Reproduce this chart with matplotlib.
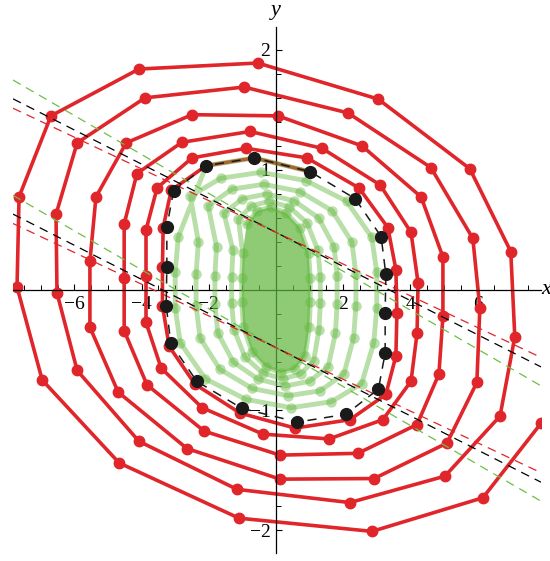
import numpy as np
import matplotlib.pyplot as plt
from matplotlib.ticker import FixedLocator, MultipleLocator

plt.rcParams['font.family'] = ['Liberation Serif', 'DejaVu Serif']

# red orbit, spiralling in from outside
red_x = [8.6, 7.89, 6.16, 2.86, -1.10, -4.67, -6.96, -7.71, -7.65, -6.70, -4.08, -0.54, 3.04, 5.77,
         6.99, 7.11, 6.67, 5.03, 2.20, -1.16, -4.08, -5.92, -6.52, -6.55, -5.92, -3.90, -0.95, 2.14,
         4.61, 5.86, 6.07, 5.98, 5.09, 2.92, 0.12, -2.65, -4.70, -5.54, -5.54, -5.36, -4.46, -2.50,
         0.06, 2.56, 4.32, 4.97, 4.97, 4.85, 4.20, 2.44, 0.12, -2.14, -3.84, -4.52, -4.52, -4.52,
         -4.14, -2.80, -0.77, 1.37, 3.10, 4.02, 4.23, 4.20, 4.02, 3.18, 1.58, -0.39, -2.20, -3.42,
         -3.87, -3.87, -3.87, -3.54, -2.50, -0.89, 0.92, 2.47, 3.33, 3.57, 3.60, 3.57, 3.27, 2.20,
         0.57, -1.07, -2.41, -3.18, -3.38, -3.38, -3.36, -3.12, -2.08, -0.64, 1.02]
red_y = [-0.55, -1.11, -1.73, -2.01, -1.90, -1.44, -0.75, 0.025, 0.775, 1.45, 1.84, 1.89, 1.59, 1.01,
         0.32, -0.39, -1.05, -1.55, -1.77, -1.66, -1.26, -0.67, -0.025, 0.63, 1.225, 1.60, 1.69, 1.475,
         1.02, 0.43, -0.15, -0.77, -1.275, -1.57, -1.575, -1.32, -0.85, -0.31, 0.24, 0.775, 1.225, 1.46,
         1.45, 1.20, 0.775, 0.275, -0.22, -0.70, -1.12, -1.36, -1.375, -1.175, -0.79, -0.34, 0.10, 0.55,
         0.97, 1.23, 1.32, 1.18, 0.875, 0.48, 0.06, -0.36, -0.76, -1.08, -1.24, -1.20, -0.98, -0.65,
         -0.27, 0.12, 0.50, 0.85, 1.10, 1.18, 1.10, 0.85, 0.52, 0.17, -0.19, -0.55, -0.87, -1.08,
         -1.15, -1.025, -0.785, -0.47, -0.13, 0.19, 0.52, 0.83, 1.035, 1.10, 0.985]

# green orbit, spiralling out from the centre
green_x = [-0.87, -0.56, -0.15, 0.31, 0.71, 0.97, 1.02, 1.02, 0.99, 0.87, 0.56, 0.15, -0.31, -0.71, -0.97, -1.02, -1.02, -0.99,
           -1.12, -0.73, -0.20, 0.40, 0.92, 1.25, 1.32, 1.32, 1.28, 1.12, 0.73, 0.20, -0.40, -0.92, -1.25, -1.32, -1.32, -1.28,
           -1.55, -1.00, -0.27, 0.55, 1.27, 1.73, 1.82, 1.82, 1.77, 1.55, 1.00, 0.27, -0.55, -1.27, -1.73, -1.82, -1.82, -1.77,
           -2.02, -1.31, -0.36, 0.71, 1.67, 2.26, 2.38, 2.38, 2.31, 2.02, 1.31, 0.36, -0.71, -1.67, -2.26, -2.38, -2.38, -2.31,
           -2.55, -1.65, -0.45, 0.90, 2.10, 2.85, 3.00, 3.00, 2.91, 2.55, 1.65, 0.45, -0.90, -2.10, -2.85, -3.00, -3.00, -2.91,
           -2.08, -0.64, 1.02]
green_y = [0.55, 0.66, 0.69, 0.64, 0.52, 0.31, 0.10, -0.10, -0.31, -0.55, -0.66, -0.69, -0.64, -0.52, -0.31, -0.10, 0.10, 0.31,
           0.59, 0.70, 0.74, 0.69, 0.56, 0.33, 0.11, -0.11, -0.33, -0.59, -0.70, -0.74, -0.69, -0.56, -0.33, -0.11, 0.11, 0.33,
           0.64, 0.76, 0.80, 0.74, 0.60, 0.36, 0.12, -0.12, -0.36, -0.64, -0.76, -0.80, -0.74, -0.60, -0.36, -0.12, 0.12, 0.36,
           0.70, 0.84, 0.88, 0.82, 0.66, 0.40, 0.13, -0.13, -0.40, -0.70, -0.84, -0.88, -0.82, -0.66, -0.40, -0.13, 0.13, 0.40,
           0.78, 0.93, 0.98, 0.91, 0.74, 0.44, 0.15, -0.15, -0.44, -0.78, -0.93, -0.98, -0.91, -0.74, -0.44, -0.15, 0.15, 0.44,
           1.035, 1.10, 0.985]

# dense green core (outline)
core_x = [-0.87, -0.56, -0.15, 0.31, 0.71, 0.97, 1.02, 1.02, 0.99, 0.87, 0.56, 0.15, -0.31, -0.71, -0.97, -1.02, -1.02, -0.99]
core_y = [0.55, 0.66, 0.69, 0.64, 0.52, 0.31, 0.10, -0.10, -0.31, -0.55, -0.66, -0.69, -0.64, -0.52, -0.31, -0.10, 0.10, 0.31]

# closed black cycle
cyc_x = [-3.05, -3.25, -3.25, -3.27, -3.13, -2.36, -1.02, 0.64, 2.08, 3.05, 3.25, 3.25, 3.27, 3.13, 2.36, 1.02, -0.64, -2.08]
cyc_y = [0.825, 0.525, 0.195, -0.13, -0.445, -0.76, -0.985, -1.10, -1.035, -0.825, -0.525, -0.195, 0.13, 0.445, 0.76, 0.985, 1.10, 1.035]

# straight dashed lines: y = slope*x + intercept
line_intercepts = [0.48, -0.48]
line_slopes = {'#6cbf46': -0.162, 'black': -0.142, '#e0262a': -0.132}

RED = '#e0262a'
GREEN = '#62b83e'

fig = plt.figure(figsize=(5.5, 5.61), dpi=100)
ax = fig.add_axes([13/550, 8/561, 528/550, 526/561])
ax.set_xlim(-7.83, 7.89)
ax.set_ylim(-2.19, 2.19)

ax.plot(red_x, red_y, '-o', color=RED, lw=2.6, ms=7.5, zorder=2)

ax.fill(core_x, core_y, color=GREEN, alpha=0.72, lw=0, zorder=3)
ax.plot(green_x, green_y, '-o', color=GREEN, lw=3.5, ms=7.5, alpha=0.45, mew=0, zorder=3)

for c in line_intercepts:
    for col, s in line_slopes.items():
        ax.axline((0, c), slope=s, color=col, lw=0.9, dashes=(7, 5), zorder=3.5)

ax.plot(cyc_x + cyc_x[:1], cyc_y + cyc_y[:1], color='#1a1a1a', lw=1.1, dashes=(6, 5), zorder=4)
ax.plot(cyc_x, cyc_y, 'o', color='#1a1a1a', ms=8.5, zorder=5)

# axes through the origin
for side in ['top', 'right']:
    ax.spines[side].set_visible(False)
ax.spines['left'].set_position(('data', 0))
ax.spines['bottom'].set_position(('data', 0))
ax.spines['left'].set_linewidth(0.9)
ax.spines['bottom'].set_linewidth(0.9)
ax.set_axisbelow(True)
ax.patch.set_visible(False)

ax.xaxis.set_major_locator(FixedLocator([-6, -4, -2, 2, 4, 6]))
ax.xaxis.set_minor_locator(MultipleLocator(0.5))
ax.yaxis.set_major_locator(FixedLocator([-2, -1, 1, 2]))
ax.yaxis.set_minor_locator(MultipleLocator(0.2))
ax.tick_params(which='major', direction='in', length=4.5, width=0.8, labelsize=14, pad=4)
ax.tick_params(which='minor', direction='in', length=3.5, width=0.7)

ax.text(7.9, 0, 'x', style='italic', fontsize=16, ha='left', va='center', clip_on=False)
ax.text(0, 2.33, 'y', style='italic', fontsize=16, ha='center', va='center', clip_on=False)

plt.savefig('out.png', dpi=100)
